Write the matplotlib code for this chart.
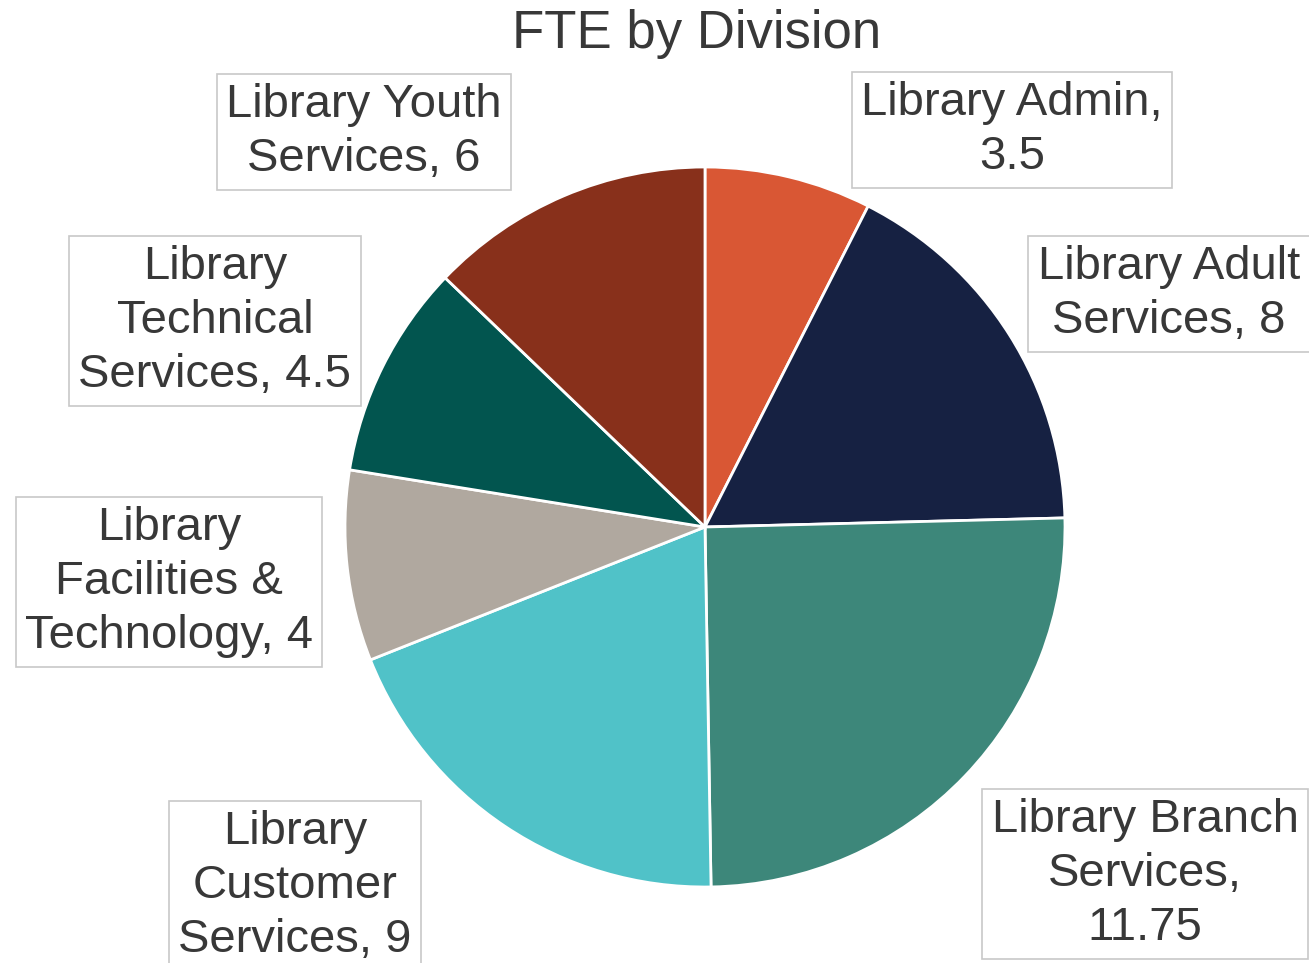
#!/usr/bin/env python
"""Pie chart of FTE by library division."""

import matplotlib as mpl
mpl.use('Agg')
import matplotlib.pyplot as plt

W, H = 1309, 963
FONT = 'Liberation Sans'
TEXT_COLOR = '#383838'

divisions = ['Library Admin', 'Library Adult Services', 'Library Branch Services',
             'Library Customer Services', 'Library Facilities & Technology',
             'Library Technical Services', 'Library Youth Services']
fte = [3.5, 8, 11.75, 9, 4, 4.5, 6]
colors = ['#d95734', '#162142', '#3d877a', '#50c2c8', '#b0a89f', '#02554f', '#88301b']

# label text as it wraps in the original
label_text = ['Library Admin,\n3.5', 'Library Adult\nServices, 8',
              'Library Branch\nServices,\n11.75', 'Library\nCustomer\nServices, 9',
              'Library\nFacilities &\nTechnology, 4', 'Library\nTechnical\nServices, 4.5',
              'Library Youth\nServices, 6']
# label box centres in pixels (layout only)
label_pos = [(1012, 130), (1169, 294), (1145, 874), (295, 886),
             (169, 582), (215, 321), (364, 132)]


def px_rect(x0, y0, x1, y1):
    """Pixel box (top-left origin) to figure fractions."""
    return [x0 / W, 1 - y1 / H, (x1 - x0) / W, (y1 - y0) / H]


fig = plt.figure(figsize=(W / 100, H / 100), dpi=100, facecolor='white')
ax = fig.add_axes(px_rect(345, 167, 1065, 887))
ax.pie(fte, colors=colors, startangle=90, counterclock=False,
       wedgeprops=dict(edgecolor='white', linewidth=2))
ax.set_xlim(-1, 1)
ax.set_ylim(-1, 1)
ax.set_aspect('equal')
ax.axis('off')

fig.text(697 / W, 1 - 34 / H, 'FTE by Division', ha='center', va='center',
         fontsize=38, family=FONT, color=TEXT_COLOR)

for txt, (x, y) in zip(label_text, label_pos):
    fig.text(x / W, 1 - y / H, txt, ha='center', va='center', fontsize=34,
             family=FONT, color=TEXT_COLOR, linespacing=1.28,
             bbox=dict(boxstyle='square,pad=0.2', facecolor='white',
                       edgecolor='#c8c8c8', linewidth=1.2))

plt.savefig('out.png', dpi=100)
